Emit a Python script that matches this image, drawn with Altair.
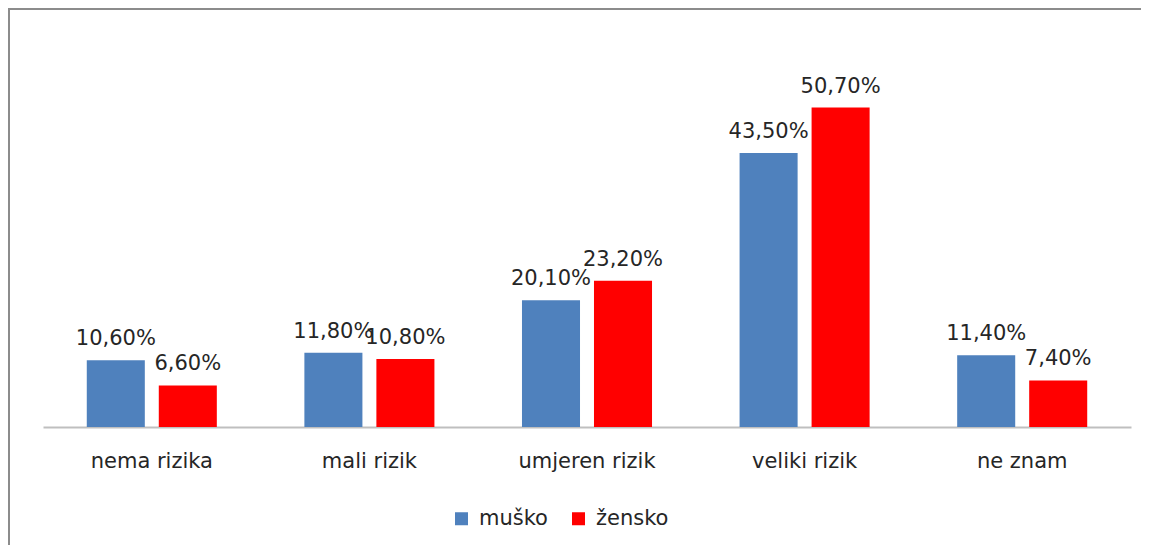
import altair as alt
import pandas as pd

categories = ["nema rizika", "mali rizik", "umjeren rizik", "veliki rizik", "ne znam"]
series = ["muško", "žensko"]
musko = [10.6, 11.8, 20.1, 43.5, 11.4]
zensko = [6.6, 10.8, 23.2, 50.7, 7.4]
colors = ["#4f81bd", "#ff0000"]

rows = []
for c, m, z in zip(categories, musko, zensko):
    rows.append({"kat": c, "spol": series[0], "v": m, "lab": f"{m:.2f}%".replace(".", ",")})
    rows.append({"kat": c, "spol": series[1], "v": z, "lab": f"{z:.2f}%".replace(".", ",")})
df = pd.DataFrame(rows)

FONT = "DejaVu Sans"
TXT = "#262626"

x = alt.X("kat:N", sort=categories, title=None,
          scale=alt.Scale(paddingInner=0, paddingOuter=0),
          axis=alt.Axis(labelAngle=0, ticks=False, domainColor="#bfbfbf", domainWidth=2,
                        labelFontSize=21, labelColor=TXT, labelFont=FONT,
                        labelPadding=23, grid=False))
xo = alt.XOffset("spol:N", sort=series,
                 scale=alt.Scale(paddingInner=0.194, paddingOuter=0.608))
y = alt.Y("v:Q", scale=alt.Scale(domain=[0, 60]), axis=None)

bars = alt.Chart(df).mark_bar().encode(
    x=x, xOffset=xo, y=y,
    color=alt.Color("spol:N", sort=series, scale=alt.Scale(domain=series, range=colors),
                    legend=alt.Legend(title=None, orient="none", direction="horizontal",
                                      legendX=408, legendY=459, symbolType="square",
                                      symbolSize=169, symbolStrokeWidth=0,
                                      labelFontSize=21, labelFont=FONT, labelColor=TXT,
                                      labelOffset=7, columnPadding=20)),
)

labels = alt.Chart(df).mark_text(dy=-15, baseline="alphabetic", fontSize=21,
                                 font=FONT, color=TXT).encode(
    x=x, xOffset=xo, y=y, text="lab:N"
)

one = pd.DataFrame({"a": [0]})
top_border = alt.Chart(one).mark_rule(color="#8c8c8c", strokeWidth=2, clip=False).encode(
    x=alt.value(-35), x2=alt.value(1098), y=alt.value(-40))
left_border = alt.Chart(one).mark_rule(color="#8c8c8c", strokeWidth=2, clip=False).encode(
    x=alt.value(-34), y=alt.value(-41), y2=alt.value(496))

chart = alt.layer(top_border, left_border, bars, labels).properties(
    width=1088, height=378,
    background="white",
    autosize=alt.AutoSizeParams(type="none"),
    padding={"left": 35, "top": 41, "right": 10, "bottom": 118},
).configure_view(strokeWidth=0, stroke="transparent")

chart.save("out.html", embed_options={"renderer": "svg", "actions": False})
